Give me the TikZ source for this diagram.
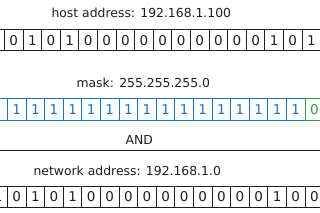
\documentclass[tikz,border=0pt]{standalone}
\usepackage{fontspec}
\setmainfont{DejaVu Sans}
\usepackage{xcolor}
\usepackage{tikz}
\usetikzlibrary{positioning}
\definecolor{ink}{HTML}{1E1E1E}
\definecolor{maskblue}{HTML}{1971C2}
\definecolor{maskgreen}{HTML}{2F9E44}

\begin{document}
\begin{tikzpicture}[x=1pt, y=-1pt,
  every node/.style={font=\fontsize{12.4}{14}\selectfont, text=ink},
  bitcell/.style={draw=ink, line width=0.9pt, minimum width=18.6pt, minimum height=21pt,
    inner sep=0pt, anchor=north west, font=\fontsize{13.5}{15}\selectfont},
  maskcell/.style={bitcell, draw=maskblue, text=maskblue, minimum height=22pt},
  zerocell/.style={maskcell, draw=maskgreen, text=maskgreen}]
  \clip (0,0) rectangle (320,213);
  % Host address (192.168.1.100), bits 10 to 26, cut cell on the left
  \node[anchor=base west] (hostlabel) at (48,17.5) {host address: 192.168.1.100};
  \node[bitcell] (host-1) at (-14.6,29.5) {};
  \foreach \d [count=\i from 0] in {0,1,0,1,0,0,0,0,0,0,0,0,0,0,1,0,1}
    \node[bitcell] (host\i) at ({4+18.6*\i},29.5) {\d};
  % Mask (255.255.255.0), ones then the first zero
  \node[anchor=base west] (masklabel) at (73,88) {mask: 255.255.255.0};
  \node[maskcell] (mask-1) at (-11.6,98.5) {};
  \foreach \i in {0,...,15}
    \node[maskcell] (mask\i) at ({7+18.6*\i},98.5) {1};
  \node[zerocell] (mask16) at (304.6,98.5) {0};
  % AND rule
  \node[anchor=base west] (andlabel) at (122,145) {AND};
  \coordinate (ruleL) at (0,150);
  \coordinate (ruleR) at (320,150);
  \draw[ink, line width=1pt] (ruleL) -- (ruleR);
  % Network address (192.168.1.0), bits 9 to 26
  \node[anchor=base west] (netlabel) at (30,175.5) {network address: 192.168.1.0};
  \foreach \d [count=\i from -1] in {1,0,1,0,1,0,0,0,0,0,0,0,0,0,0,1,0,0}
    \node[bitcell] (net\i) at ({7+18.6*\i},185.5) {\d};
\end{tikzpicture}
\end{document}
